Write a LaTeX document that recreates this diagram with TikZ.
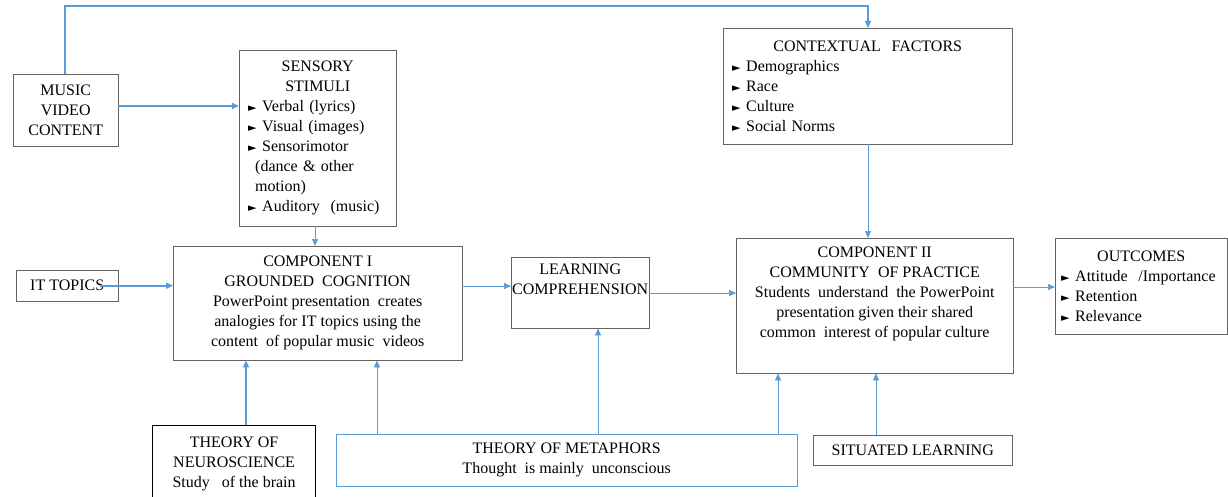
\documentclass[tikz,border=0pt]{standalone}
\usepackage{fontspec}
\setmainfont{Liberation Serif}
\newfontfamily\boxfont{Liberation Serif}
\newfontfamily\bulletfont{DejaVu Sans}
\usetikzlibrary{arrows.meta}

\definecolor{linkblue}{RGB}{91,155,213}
\definecolor{framegray}{RGB}{100,100,100}

\tikzset{
  box/.style={draw=framegray, thin, inner sep=3pt, anchor=north west},
  listbox/.style={box, inner xsep=9pt, align=left},
  flow/.style={draw=linkblue, semithick, -{Triangle[length=7pt, width=6pt]}},
  thickflow/.style={flow, line width=2.4pt},
}

\newcommand{\itm}{\makebox[14pt][l]{\bulletfont\fontsize{11}{11}\selectfont ►}}
\newcommand{\ttl}[1]{\makebox[\hsize][c]{#1}}

\begin{document}
\begin{tikzpicture}[
  x=1pt, y=-1pt,
  font=\boxfont\fontsize{16}{20}\selectfont,
  ]

  \useasboundingbox (0,0) rectangle (1228,497);

  % Upper row
  \node[box, minimum width=105, minimum height=72, align=center] (music) at (13,74)
    {MUSIC\\VIDEO\\CONTENT};
  \node[listbox, minimum width=157, minimum height=176, text width=139] (sensory) at (239,50)
    {\ttl{SENSORY}\\\ttl{STIMULI}\\
     \itm Verbal (lyrics)\\\itm Visual (images)\\\itm Sensorimotor\\
     \hspace*{7pt}(dance \& other\\\hspace*{7pt}motion)\\\itm Auditory\ \ (music)};
  \node[listbox, minimum width=289, minimum height=116, text width=271] (context) at (723,28)
    {\ttl{CONTEXTUAL\ \ FACTORS}\\\itm Demographics\\\itm Race\\\itm Culture\\\itm Social Norms};

  % Middle row
  \node[box, minimum width=102, minimum height=31] (ittopics) at (16,270) {IT TOPICS};
  \node[box, minimum width=289, minimum height=114, align=center] (comp1) at (173,246)
    {COMPONENT I\\GROUNDED\ \ COGNITION\\PowerPoint presentation\ \ creates\\
     analogies for IT topics using the\\content\ \ of popular music\ \ videos};
  \node[box, inner xsep=1pt, minimum width=126, minimum height=71, align=center] (learning) at (511,257)
    {LEARNING\\COMPREHENSION\\\strut};
  \node[box, minimum width=277, minimum height=135, align=center] (comp2) at (736,238)
    {COMPONENT II\\COMMUNITY\ \ OF PRACTICE\\Students\ \ understand\ \ the PowerPoint\\
     presentation given their shared\\common\ \ interest of popular culture\\\strut};
  \node[listbox, inner xsep=6pt, minimum width=172, minimum height=96, text width=160] (outcomes) at (1055,238)
    {\ttl{OUTCOMES}\\\itm Attitude\ \ /Importance\\\itm Retention\\\itm Relevance};

  % Lower row
  \node[box, draw=black, line width=1.2pt, minimum width=163, minimum height=76, align=center] (neuro) at (152,425)
    {THEORY OF\\NEUROSCIENCE\\Study\ \ \ of the brain};
  \node[box, draw=linkblue, minimum width=461, minimum height=52, align=center] (metaphor) at (336,434)
    {THEORY OF METAPHORS\\Thought\ \ is mainly\ \ unconscious};
  \node[box, minimum width=199, minimum height=30] (situated) at (813,435) {SITUATED LEARNING};

  % Connectors
  \draw[flow, line width=1.2pt] (music.north -| 65,0) |- (868,6) -- (context.north -| 868,0);
  \draw[thickflow, line width=2.6pt] (music.east |- 0,106) -- (sensory.west |- 0,106);
  \draw[flow] (sensory.south -| 315,0) -- (comp1.north -| 315,0);
  \draw[thickflow, line width=1.8pt] ([xshift=-18pt]ittopics.east) -- (comp1.west |- ittopics.east);
  \draw[flow] (comp1.east |- 0,286) -- (learning.west |- 0,286);
  \draw[flow] (learning.east |- 0,293) -- (comp2.west |- 0,293);
  \draw[flow] (comp2.east |- 0,287) -- (outcomes.west |- 0,287);
  \draw[flow] (context.south -| 868,0) -- (comp2.north -| 868,0);
  \draw[thickflow] (neuro.north -| 246,0) -- (comp1.south -| 246,0);
  \draw[flow] (metaphor.north -| 377,0) -- (comp1.south -| 377,0);
  \draw[flow] (metaphor.north -| 598,0) -- (learning.south -| 598,0);
  \draw[flow] (metaphor.north -| 778,0) -- (comp2.south -| 778,0);
  \draw[flow] (situated.north -| 876,0) -- (comp2.south -| 876,0);

\end{tikzpicture}
\end{document}
